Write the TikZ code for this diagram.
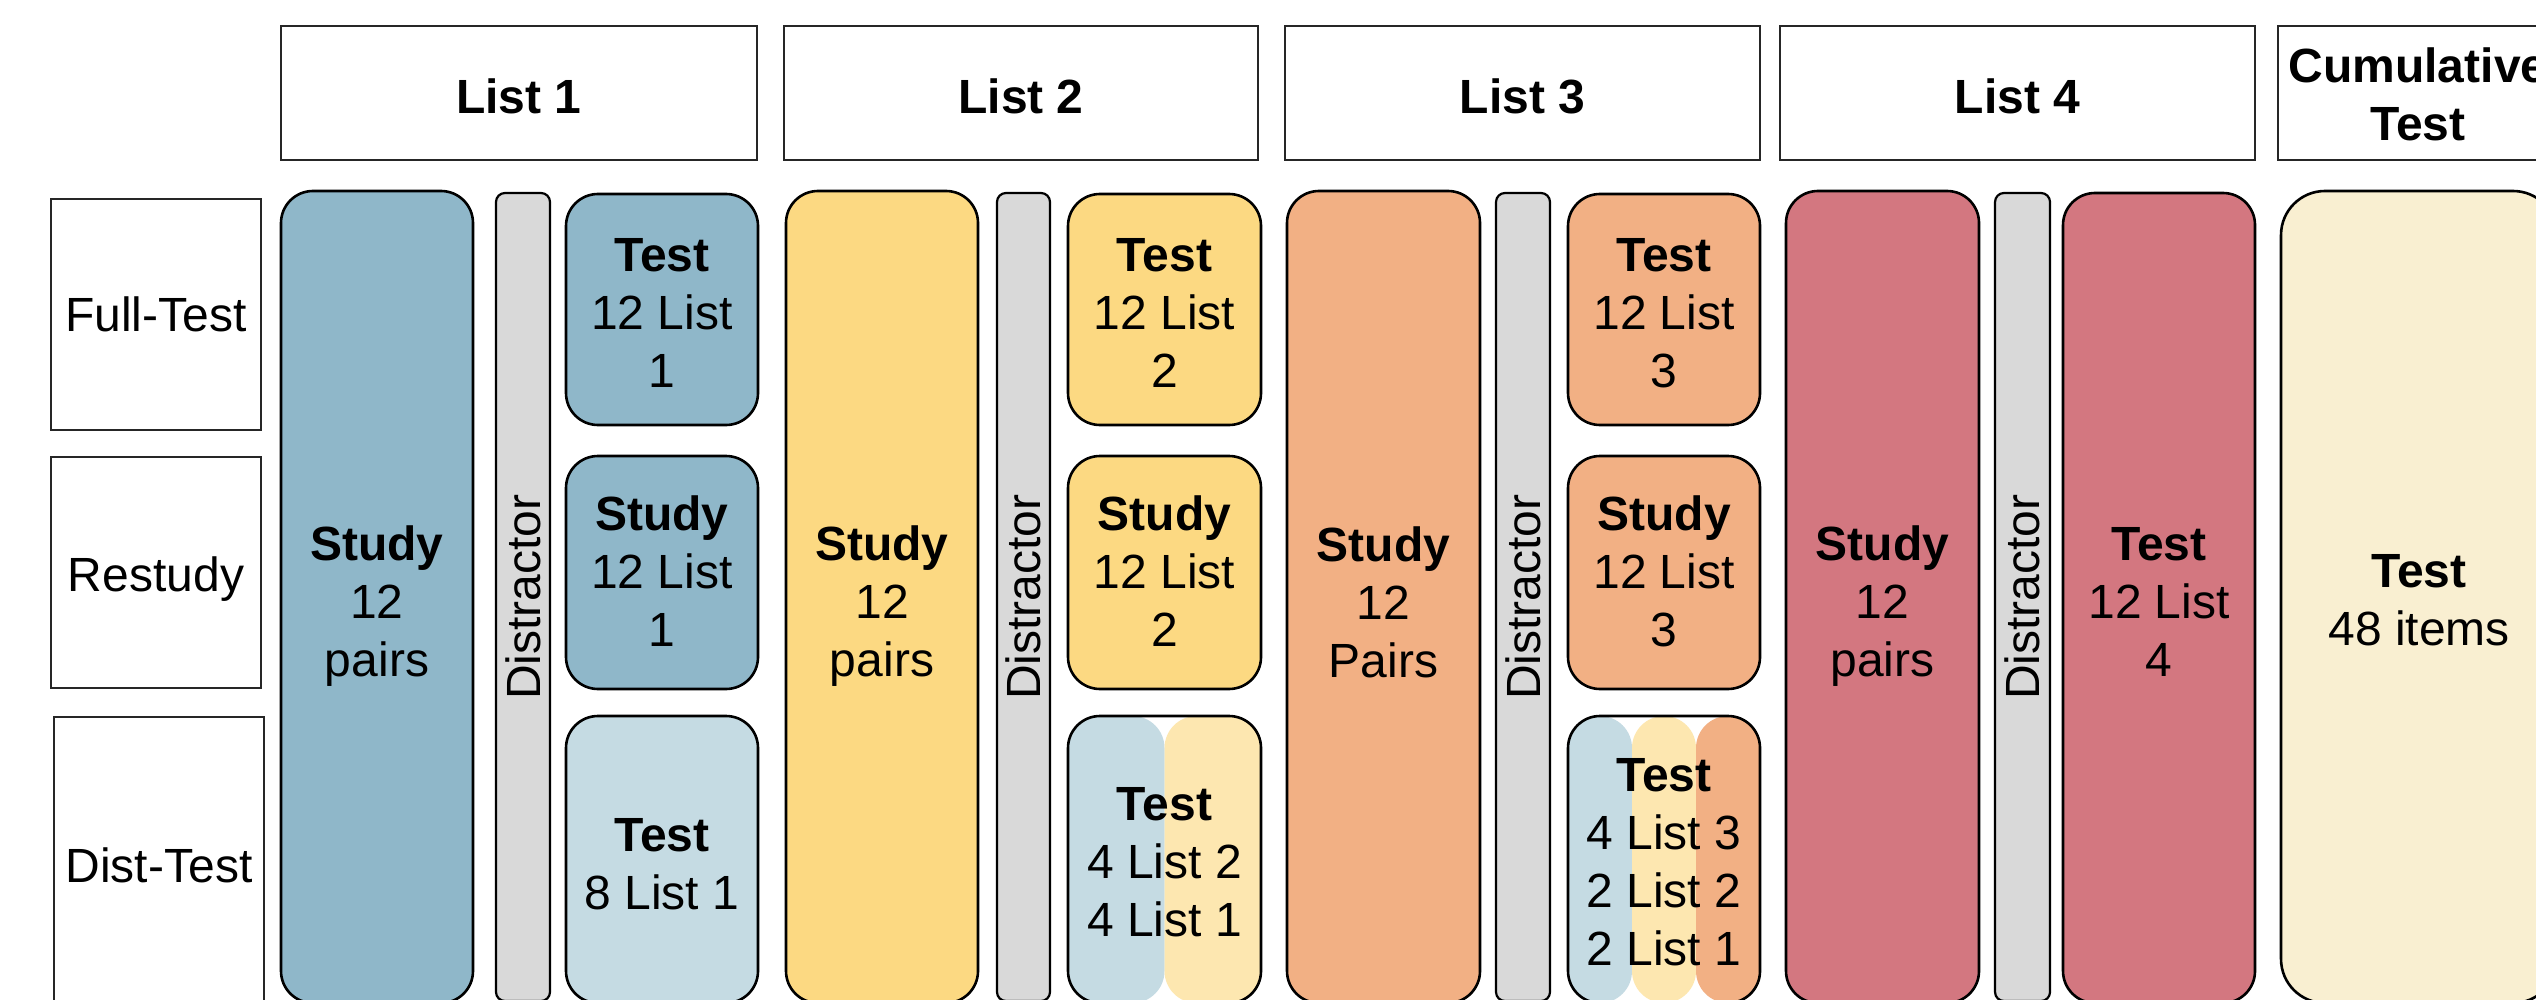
\documentclass[tikz,border=0pt]{standalone}
\usepackage{fontspec}
\setmainfont{Liberation Sans}
\usepackage{graphicx}
\usetikzlibrary{calc}
\definecolor{cblue}{HTML}{8FB7C9}
\definecolor{clblue}{HTML}{C5DBE3}
\definecolor{cyel}{HTML}{FCD982}
\definecolor{clyel}{HTML}{FDE7B0}
\definecolor{corg}{HTML}{F2B084}
\definecolor{cred}{HTML}{D37780}
\definecolor{ccream}{HTML}{F9EFD1}
\definecolor{cgray}{HTML}{D9D9D9}
\newcommand\putbox[8][2pt]{% [text shift], name, style, x1, y1, x2, y2, text
  \pgfmathsetmacro\pbw{(#6-#4)*0.5}%
  \pgfmathsetmacro\pbh{(#7-#5)*0.5}%
  \node[#3, minimum width=\pbw pt, minimum height=\pbh pt, inner sep=0pt, outer sep=0pt] (#2) at ({(#4+#6)/2},{(#5+#7)/2})
    {\raisebox{-#1}[\height][\depth]{\begin{tabular}{@{}c@{}}#8\end{tabular}}};}
\begin{document}
\begin{tikzpicture}[x=0.5pt,y=-0.5pt,
  font=\fontsize{24}{29}\selectfont,
  hdr/.style={draw=black!85, line width=1.1pt, fill=white, font=\fontsize{24}{29}\selectfont\bfseries},
  rowlab/.style={draw=black!85, line width=1.1pt, fill=white},
  blk/.style={draw=black, line width=1.3pt, rounded corners=16pt},
  bigblk/.style={blk, rounded corners=22pt},
  bar/.style={draw=black, line width=1.1pt, rounded corners=4.5pt, fill=cgray},
  splittwo/.style={path picture={
    \fill[clblue] (path picture bounding box.south west) rectangle (path picture bounding box.north);
    \fill[clyel] (path picture bounding box.south) rectangle (path picture bounding box.north east);}},
  splitthree/.style={path picture={
    \coordinate (ppsw) at (path picture bounding box.south west);
    \coordinate (ppne) at (path picture bounding box.north east);
    \coordinate (ppse) at (path picture bounding box.south east);
    \coordinate (ppnw) at (path picture bounding box.north west);
    \fill[clblue] (ppsw) rectangle ($(ppnw)!1/3!(ppne)$);
    \fill[clyel] ($(ppsw)!1/3!(ppse)$) rectangle ($(ppnw)!2/3!(ppne)$);
    \fill[corg] ($(ppsw)!2/3!(ppse)$) rectangle (ppne);}},
]
\useasboundingbox (0,0) rectangle (2536,1000);
\clip (0,0) rectangle (2536,1000);
\fill[white] (0,0) rectangle (2536,1000);

% headers
\putbox[4.4pt]{h1}{hdr}{281}{26}{757}{160}{List 1}
\putbox[4.4pt]{h2}{hdr}{784}{26}{1258}{160}{List 2}
\putbox[4.4pt]{h3}{hdr}{1285}{26}{1760}{160}{List 3}
\putbox[4.4pt]{h4}{hdr}{1780}{26}{2255}{160}{List 4}
\putbox[3.5pt]{h5}{hdr}{2278}{26}{2558}{160}{Cumulative\\Test}

% row labels
\putbox[2.5pt]{r1}{rowlab}{51}{199}{261}{430}{Full-Test}
\putbox[3.5pt]{r2}{rowlab}{51}{457}{261}{688}{Restudy}
\putbox[3.5pt]{r3}{rowlab}{54}{717}{264}{1010}{Dist-Test}

% list 1
\putbox[5pt]{s1}{blk,fill=cblue}{281}{191}{473}{1003}{\textbf{Study}\\12\\pairs}
\putbox[4.4pt]{d1}{bar}{496}{193}{550}{1001}{\rotatebox{90}{Distractor}}
\putbox[4pt]{t1a}{blk,fill=cblue}{566}{194}{758}{425}{\textbf{Test}\\12 List\\1}
\putbox[2pt]{t1b}{blk,fill=cblue}{566}{456}{758}{689}{\textbf{Study}\\12 List\\1}
\putbox[4.5pt]{t1c}{blk,fill=clblue}{566}{716}{758}{1003}{\textbf{Test}\\8 List 1}

% list 2
\putbox[5pt]{s2}{blk,fill=cyel}{786}{191}{978}{1003}{\textbf{Study}\\12\\pairs}
\putbox[4.4pt]{d2}{bar}{997}{193}{1050}{1001}{\rotatebox{90}{Distractor}}
\putbox[4pt]{t2a}{blk,fill=cyel}{1068}{194}{1261}{425}{\textbf{Test}\\12 List\\2}
\putbox[2pt]{t2b}{blk,fill=cyel}{1068}{456}{1261}{689}{\textbf{Study}\\12 List\\2}
\putbox[3.5pt]{t2c}{blk,splittwo}{1068}{716}{1261}{1003}{\textbf{Test}\\4 List 2\\4 List 1}

% list 3
\putbox[5.5pt]{s3}{blk,fill=corg}{1287}{191}{1480}{1003}{\textbf{Study}\\12\\Pairs}
\putbox[4.4pt]{d3}{bar}{1496}{193}{1550}{1001}{\rotatebox{90}{Distractor}}
\putbox[4pt]{t3a}{blk,fill=corg}{1568}{194}{1760}{425}{\textbf{Test}\\12 List\\3}
\putbox[2pt]{t3b}{blk,fill=corg}{1568}{456}{1760}{689}{\textbf{Study}\\12 List\\3}
\putbox[3.5pt]{t3c}{blk,splitthree}{1568}{716}{1760}{1003}{\textbf{Test}\\4 List 3\\2 List 2\\2 List 1}

% list 4
\putbox[5pt]{s4}{blk,fill=cred}{1786}{191}{1979}{1003}{\textbf{Study}\\12\\pairs}
\putbox[4.4pt]{d4}{bar}{1995}{193}{2050}{1001}{\rotatebox{90}{Distractor}}
\putbox[4.5pt]{t4}{blk,fill=cred}{2063}{193}{2255}{1003}{\textbf{Test}\\12 List\\4}

% cumulative
\putbox[4pt]{c5}{bigblk,fill=ccream}{2281}{191}{2557}{1003}{\textbf{Test}\\48 items}
\end{tikzpicture}
\end{document}
